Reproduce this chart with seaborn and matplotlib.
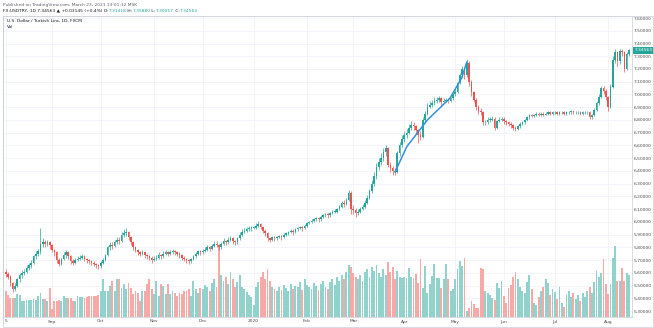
import matplotlib
matplotlib.use("Agg")
import matplotlib.pyplot as plt
from matplotlib.patches import Rectangle
import numpy as np
import pandas as pd
import seaborn as sns

# ---------------- data: FX:USDTRY daily bars, 5 Aug 2019 - 14 Aug 2020 ----------------
first_day = "2019-08-05"
last_day = "2020-08-14"
first_open = 5.61

closes = [
    5.59, 5.57, 5.52, 5.47, 5.50, 5.55, 5.58, 5.60, 5.61, 5.64, 5.66, 5.68, 5.73, 5.75, 5.77, 5.83, 5.84, 5.83, 5.84, 5.82,
    5.78, 5.76, 5.70, 5.67, 5.71, 5.74, 5.76, 5.73, 5.69, 5.68, 5.70, 5.71, 5.72, 5.73, 5.71, 5.70, 5.69, 5.68, 5.67, 5.66, 5.65,
    5.68, 5.70, 5.74, 5.80, 5.82, 5.81, 5.84, 5.86, 5.85, 5.90, 5.91, 5.92, 5.88, 5.84, 5.80, 5.78, 5.76, 5.75, 5.76, 5.74, 5.73, 5.72, 5.70,
    5.71, 5.72, 5.74, 5.73, 5.75, 5.76, 5.75, 5.76, 5.77, 5.76, 5.75, 5.74, 5.72, 5.71, 5.70, 5.69, 5.71, 5.73, 5.75, 5.77, 5.76,
    5.77, 5.78, 5.80, 5.79, 5.81, 5.83, 5.82, 5.80, 5.83, 5.85, 5.84, 5.86, 5.87, 5.85, 5.84, 5.87, 5.90, 5.92, 5.93, 5.94, 5.95, 5.95,
    5.95, 5.97, 5.98, 5.96, 5.93, 5.91, 5.87, 5.86, 5.88, 5.87, 5.88, 5.89, 5.88, 5.90, 5.91, 5.92, 5.93, 5.92, 5.94, 5.95, 5.96, 5.95, 5.97,
    5.99, 6.00, 6.01, 6.02, 6.03, 6.02, 6.04, 6.05, 6.06, 6.05, 6.07, 6.08, 6.08, 6.10, 6.12, 6.15, 6.14, 6.17, 6.23, 6.10,
    6.09, 6.07, 6.08, 6.10, 6.12, 6.15, 6.19, 6.24, 6.30, 6.36, 6.43, 6.47, 6.50, 6.55, 6.58, 6.45, 6.42, 6.40, 6.39, 6.54, 6.60, 6.65,
    6.68, 6.70, 6.74, 6.76, 6.75, 6.72, 6.68, 6.67, 6.80, 6.85, 6.90, 6.92, 6.93, 6.95, 6.96, 6.97, 6.94, 6.95, 6.96, 6.95, 6.97, 7.00,
    7.02, 7.09, 7.15, 7.20, 7.15, 7.25, 7.10, 7.02, 6.96, 6.90, 6.87, 6.86, 6.78, 6.78, 6.80, 6.80, 6.81, 6.74, 6.79, 6.80, 6.81,
    6.79, 6.78, 6.77, 6.76, 6.74, 6.73, 6.75, 6.77, 6.78, 6.80, 6.82, 6.84, 6.83, 6.84, 6.85, 6.84, 6.85, 6.84, 6.85, 6.86, 6.85, 6.86,
    6.86, 6.85, 6.86, 6.86, 6.85, 6.86, 6.86, 6.87, 6.86, 6.86, 6.86, 6.85, 6.86, 6.86, 6.86, 6.82, 6.84, 6.88, 6.93, 6.98, 7.05, 7.03, 6.98,
    6.90, 7.06, 7.27, 7.33, 7.26, 7.34, 7.33, 7.20, 7.31418, 7.34563,
]

highs = [
    5.63, 5.61, 5.58, 5.53, 5.52, 5.56, 5.60, 5.62, 5.63, 5.66, 5.68, 5.70, 5.74, 5.77, 5.79, 5.95, 5.87, 5.86, 5.86, 5.85,
    5.83, 5.79, 5.77, 5.72, 5.72, 5.76, 5.78, 5.77, 5.74, 5.71, 5.72, 5.73, 5.74, 5.75, 5.74, 5.72, 5.71, 5.70, 5.69, 5.68, 5.67,
    5.69, 5.72, 5.75, 5.81, 5.84, 5.84, 5.86, 5.88, 5.88, 5.92, 5.94, 5.95, 5.93, 5.89, 5.85, 5.81, 5.79, 5.77, 5.78, 5.77, 5.75, 5.74, 5.73,
    5.73, 5.74, 5.76, 5.75, 5.77, 5.78, 5.77, 5.78, 5.79, 5.78, 5.77, 5.76, 5.75, 5.73, 5.72, 5.71, 5.72, 5.74, 5.76, 5.78, 5.78,
    5.79, 5.80, 5.82, 5.81, 5.83, 5.85, 5.85, 5.83, 5.84, 5.87, 5.86, 5.88, 5.89, 5.88, 5.86, 5.88, 5.92, 5.94, 5.95, 5.96, 5.97, 5.97,
    5.97, 5.99, 6.01, 5.99, 5.97, 5.94, 5.92, 5.88, 5.89, 5.89, 5.89, 5.90, 5.90, 5.91, 5.92, 5.93, 5.94, 5.94, 5.95, 5.96, 5.97, 5.97, 5.98,
    6.00, 6.01, 6.02, 6.03, 6.04, 6.04, 6.05, 6.06, 6.07, 6.07, 6.08, 6.09, 6.10, 6.11, 6.13, 6.16, 6.17, 6.19, 6.25, 6.24,
    6.13, 6.11, 6.10, 6.12, 6.14, 6.17, 6.21, 6.26, 6.33, 6.39, 6.46, 6.50, 6.54, 6.58, 6.60, 6.59, 6.47, 6.44, 6.42, 6.56, 6.63, 6.68,
    6.71, 6.73, 6.77, 6.79, 6.78, 6.76, 6.73, 6.71, 6.82, 6.87, 6.93, 6.95, 6.96, 6.98, 6.98, 6.99, 6.98, 6.97, 6.97, 6.97, 6.98, 7.01,
    7.04, 7.10, 7.17, 7.22, 7.21, 7.28, 7.26, 7.11, 7.03, 6.97, 6.92, 6.89, 6.87, 6.80, 6.82, 6.82, 6.83, 6.82, 6.80, 6.82, 6.82,
    6.82, 6.80, 6.79, 6.78, 6.77, 6.75, 6.76, 6.78, 6.79, 6.81, 6.83, 6.85, 6.85, 6.85, 6.86, 6.86, 6.86, 6.86, 6.86, 6.87, 6.87, 6.87,
    6.87, 6.87, 6.87, 6.87, 6.87, 6.87, 6.87, 6.88, 6.88, 6.87, 6.87, 6.87, 6.87, 6.87, 6.87, 6.87, 6.85, 6.89, 6.95, 7.00, 7.07, 7.07, 7.04,
    6.99, 7.08, 7.30, 7.36, 7.34, 7.36, 7.36, 7.34, 7.33, 7.35880,
]

lows = [
    5.57, 5.55, 5.50, 5.45, 5.46, 5.49, 5.53, 5.56, 5.58, 5.60, 5.62, 5.64, 5.67, 5.71, 5.73, 5.75, 5.80, 5.80, 5.81, 5.79,
    5.76, 5.73, 5.68, 5.65, 5.66, 5.70, 5.72, 5.71, 5.67, 5.66, 5.67, 5.69, 5.70, 5.71, 5.69, 5.68, 5.67, 5.66, 5.65, 5.64, 5.63,
    5.64, 5.67, 5.69, 5.73, 5.78, 5.79, 5.80, 5.83, 5.83, 5.84, 5.88, 5.89, 5.86, 5.82, 5.78, 5.76, 5.74, 5.73, 5.74, 5.72, 5.71, 5.70, 5.68,
    5.69, 5.70, 5.71, 5.71, 5.72, 5.74, 5.73, 5.74, 5.75, 5.74, 5.73, 5.72, 5.70, 5.69, 5.68, 5.67, 5.68, 5.70, 5.72, 5.74, 5.74,
    5.75, 5.76, 5.77, 5.77, 5.78, 5.80, 5.80, 5.78, 5.79, 5.82, 5.82, 5.83, 5.85, 5.83, 5.82, 5.83, 5.86, 5.89, 5.91, 5.92, 5.93, 5.93,
    5.94, 5.94, 5.96, 5.94, 5.91, 5.89, 5.85, 5.84, 5.85, 5.85, 5.86, 5.87, 5.86, 5.87, 5.89, 5.90, 5.91, 5.90, 5.91, 5.93, 5.94, 5.93, 5.94,
    5.96, 5.98, 5.99, 6.00, 6.01, 6.00, 6.01, 6.03, 6.04, 6.03, 6.04, 6.06, 6.07, 6.07, 6.09, 6.11, 6.12, 6.13, 6.16, 6.06,
    6.06, 6.04, 6.05, 6.07, 6.09, 6.11, 6.14, 6.18, 6.23, 6.28, 6.34, 6.41, 6.45, 6.48, 6.52, 6.43, 6.39, 6.37, 6.37, 6.38, 6.52, 6.59,
    6.63, 6.66, 6.69, 6.72, 6.72, 6.69, 6.62, 6.64, 6.66, 6.78, 6.84, 6.89, 6.90, 6.92, 6.93, 6.94, 6.92, 6.93, 6.94, 6.93, 6.94, 6.96,
    6.99, 7.01, 7.08, 7.13, 7.12, 7.14, 7.07, 6.99, 6.94, 6.88, 6.85, 6.84, 6.76, 6.76, 6.77, 6.78, 6.79, 6.72, 6.73, 6.78, 6.79,
    6.77, 6.76, 6.75, 6.74, 6.72, 6.71, 6.72, 6.74, 6.76, 6.77, 6.79, 6.81, 6.82, 6.82, 6.83, 6.83, 6.83, 6.83, 6.84, 6.84, 6.84, 6.84,
    6.85, 6.84, 6.84, 6.85, 6.84, 6.84, 6.85, 6.85, 6.85, 6.85, 6.85, 6.84, 6.84, 6.85, 6.85, 6.81, 6.81, 6.83, 6.87, 6.92, 6.97, 7.00, 6.96,
    6.87, 6.89, 7.05, 7.25, 7.22, 7.24, 7.30, 7.18, 7.19, 7.30057,
]

volumes = [
    26, 22, 19, 19, 19, 23, 22, 16, 16, 17, 17, 17, 18, 17, 21, 24, 18, 18, 16, 29,
    8, 16, 16, 17, 16, 21, 19, 19, 19, 16, 16, 21, 20, 20, 19, 20, 21, 21, 21, 21, 22,
    26, 38, 26, 26, 31, 36, 26, 38, 38, 29, 33, 28, 34, 29, 23, 26, 24, 16, 26, 26, 33, 38, 28,
    23, 36, 21, 33, 31, 23, 33, 23, 26, 24, 21, 24, 23, 26, 26, 28, 21, 36, 28, 24, 29,
    28, 32, 30, 26, 34, 38, 30, 70, 42, 36, 40, 33, 45, 38, 30, 35, 42, 30, 28, 25, 22, 20,
    12, 30, 35, 40, 45, 38, 48, 36, 30, 28, 26, 30, 27, 32, 29, 26, 33, 28, 31, 30, 35, 27, 38,
    32, 30, 28, 34, 31, 27, 33, 36, 30, 28, 35, 38, 32, 40, 36, 42, 38, 45, 52, 50,
    44, 40, 38, 42, 36, 45, 48, 40, 50, 46, 52, 44, 40, 48, 42, 55, 45, 50, 38, 46, 40, 39,
    40, 39, 49, 40, 39, 43, 34, 58, 29, 51, 24, 33, 41, 53, 39, 39, 29, 38, 53, 38, 26, 28,
    38, 48, 56, 51, 59, 6, 9, 16, 13, 9, 9, 49, 48, 26, 24, 22, 19, 17, 34, 29, 36,
    21, 14, 29, 32, 40, 45, 38, 30, 26, 24, 35, 42, 28, 14, 12, 20, 26, 30, 38, 34, 22, 28,
    25, 18, 30, 14, 10, 22, 26, 20, 24, 18, 22, 16, 24, 20, 26, 30, 24, 35, 46, 40, 44, 58, 33,
    23, 33, 59, 71, 36, 36, 49, 36, 44, 42,
]

# hand-drawn blue trend line (bar number, price)
trend_bar = [168.0, 173.1, 182.0, 191.7, 196.8, 199.0]
trend_price = [6.39, 6.59, 6.80, 6.97, 7.13, 7.255]

price_levels = [round(5.3 + 0.1 * k, 1) for k in range(24)]

# ---------------- bars ----------------
sessions = pd.bdate_range(first_day, last_day)
n = len(sessions)
pos = np.arange(n)
c = np.array(closes)
o = np.array([first_open] + closes[:-1])   # FX daily bars open at the prior close
h = np.array(highs)
l = np.array(lows)
rising = c >= o

UP, DOWN = "#26a69a", "#ef5350"
UP_VOL, DOWN_VOL = "#92d2cc", "#f7a9a7"
GRID = "#f0f3fa"
BORDER = "#d1d4dc"
TXT = "#131722"
FS = 3.2

# month boundaries for the time scale
month_start = [0] + [i for i in range(1, n) if sessions[i].month != sessions[i - 1].month]
month_lbl = []
for i in month_start:
    d = sessions[i]
    if i == 0:
        month_lbl.append(str(d.day))
    elif d.month == 1:
        month_lbl.append(str(d.year))
    else:
        month_lbl.append(d.strftime("%b"))

# ---------------- figure ----------------
sns.set_theme(style="white")
plt.rcParams["font.family"] = ["DejaVu Sans"]

W, H = 654, 328
fig = plt.figure(figsize=(W / 100, H / 100), dpi=100)
fig.patch.set_facecolor("white")

top_px, bot_px, left_px, right_px = 16, 317, 3, 632
rect = [left_px / W, (H - bot_px) / H, (right_px - left_px) / W, (bot_px - top_px) / H]

ax_vol = fig.add_axes(rect)
ax = fig.add_axes(rect)
ax.patch.set_visible(False)

x_lo, x_hi = -1.17, 270.3
y_lo, y_hi = 5.253, 7.616

# volume histogram (bottom layer)
vol_df = pd.DataFrame({
    "bar": pos,
    "volume": volumes,
    "side": np.where(rising, "up", "down"),
})
sns.barplot(data=vol_df, x="bar", y="volume", hue="side",
            palette={"up": UP_VOL, "down": DOWN_VOL}, native_scale=True,
            dodge=False, width=0.8, errorbar=None, legend=False,
            saturation=1, linewidth=0, ax=ax_vol, zorder=2)
ax_vol.set_xlim(x_lo, x_hi)
ax_vol.set_ylim(0, bot_px - top_px)

# grid behind everything
ygrid_tr = ax.get_yaxis_transform()
for p in price_levels:
    ax_vol.plot([0, 1], [p, p], transform=ygrid_tr, color=GRID, lw=0.6, zorder=0)
for i in month_start:
    ax_vol.axvline(i, color=GRID, lw=0.6, zorder=0)
ax_vol.set_axis_off()

# candles
cols = np.where(rising, UP, DOWN)
ax.vlines(pos, l, h, colors=cols, lw=0.5, zorder=3)
ax.bar(pos, np.maximum(np.abs(c - o), 0.006), bottom=np.minimum(o, c),
       width=0.7, color=cols, linewidth=0, zorder=4)

# trend line
sns.lineplot(x=trend_bar, y=trend_price, ax=ax, color="#3490dc", lw=1.1,
             sort=False, estimator=None, zorder=5)

ax.set_xlim(x_lo, x_hi)
ax.set_ylim(y_lo, y_hi)
ax.set_xlabel("")
ax.set_ylabel("")

ax.yaxis.tick_right()
ax.set_yticks(price_levels)
ax.set_yticklabels([f"{p:.5f}" for p in price_levels])
ax.set_xticks(month_start)
ax.set_xticklabels(month_lbl)
ax.tick_params(axis="both", length=0, labelsize=FS, colors="#4a4a4a")
ax.tick_params(axis="y", pad=1.4)
ax.tick_params(axis="x", pad=1.8)
for side, sp in ax.spines.items():
    sp.set_color(BORDER)
    sp.set_linewidth(0.6)
ax.spines["left"].set_color("#b2b5be")

# last price tag
last = closes[-1]
ax.text(1 + 2.5 / (right_px - left_px), last, f"{last:.5f}", transform=ax.get_yaxis_transform(),
        ha="left", va="center", fontsize=FS, color="white", clip_on=False, zorder=6,
        bbox=dict(boxstyle="square,pad=0.3", fc=UP, ec="none"))

# outer pane border
fig.patches.append(Rectangle((left_px / W, 1 / H), (653 - left_px) / W, (327 - top_px) / H,
                             transform=fig.transFigure, fill=False, ec=BORDER, lw=0.6))

# header lines
renderer = fig.canvas.get_renderer()


def write_runs(x_px, y_px, runs, size):
    x = x_px
    for text, color in runs:
        t = fig.text(x / W, 1 - y_px / H, text, color=color, fontsize=size,
                     ha="left", va="center")
        x = t.get_window_extent(renderer=renderer).x1


change = closes[-1] - closes[-2]
pct = change / closes[-2] * 100
write_runs(3, 5, [("Published on TradingView.com, March 23, 2021 13:01:32 MSK", "#5d606b")], FS)
write_runs(3, 11, [
    (f"FX:USDTRY, 1D {closes[-1]:.5f} \u25b2 +{change:.5f} (+{pct:.1f}%) O:", TXT),
    (f"{o[-1]:.5f}", UP), (" H:", TXT), (f"{highs[-1]:.5f}", UP),
    (" L:", TXT), (f"{lows[-1]:.5f}", UP), (" C:", TXT), (f"{closes[-1]:.5f}", UP),
], FS)
write_runs(7, 21, [("U.S. Dollar / Turkish Lira, 1D, FXCM", TXT)], FS)
write_runs(7, 27, [("Vol", TXT)], FS)

fig.savefig("out.png", dpi=100, facecolor="white")
